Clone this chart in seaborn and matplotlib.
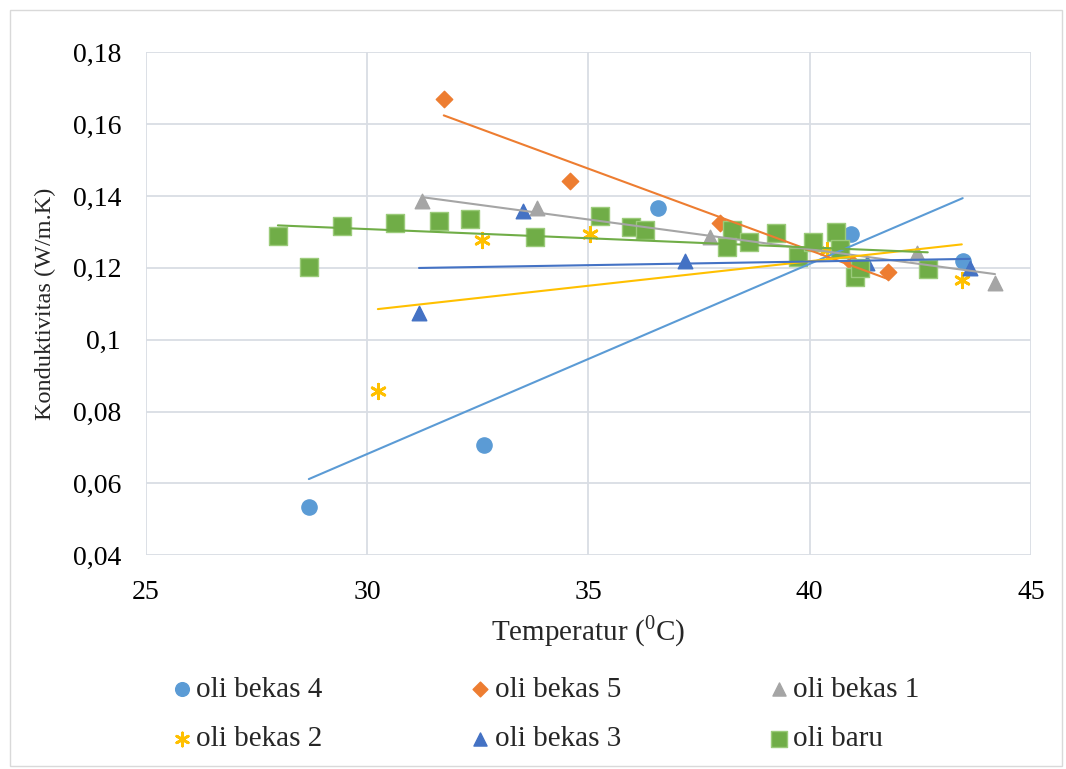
import numpy as np
import pandas as pd
import matplotlib
matplotlib.use("Agg")
import matplotlib.pyplot as plt
import seaborn as sns
from matplotlib.ticker import FuncFormatter, MultipleLocator
from matplotlib.patches import Rectangle

# Data
bekas4_x = [28.68, 32.64, 36.57, 40.93, 43.46]
bekas4_y = [0.0534, 0.0706, 0.1366, 0.1293, 0.1218]

bekas5_x = [31.73, 34.58, 37.97, 40.96, 41.77]
bekas5_y = [0.1669, 0.1441, 0.1324, 0.1213, 0.1188]

bekas1_x = [31.24, 33.84, 37.75, 42.42, 44.19]
bekas1_y = [0.1385, 0.1366, 0.1285, 0.1241, 0.1157]

bekas2_x = [30.24, 32.59, 35.03, 40.40, 43.44]
bekas2_y = [0.0857, 0.1277, 0.1293, 0.1250, 0.1165]

bekas3_x = [31.17, 33.52, 37.18, 41.29, 43.62]
bekas3_y = [0.1074, 0.1357, 0.1218, 0.1213, 0.1199]

baru_x = [27.98, 28.68, 29.43, 30.63, 31.62, 32.32, 33.79, 35.26, 35.96, 36.28,
          38.24, 38.13, 38.63, 39.24, 39.73, 40.07, 40.59, 40.68, 41.02, 41.14, 42.67]
baru_y = [0.1288, 0.1202, 0.1316, 0.1324, 0.1330, 0.1335, 0.1285, 0.1344, 0.1313, 0.1305,
          0.1305, 0.1257, 0.1271, 0.1296, 0.1229, 0.1271, 0.1299, 0.1252, 0.1174, 0.1199, 0.1196]

series = [
    # name, x, y, colour, marker, size, edge
    ("oli bekas 4", bekas4_x, bekas4_y, "#5B9BD5", "o", 120, "#5B9BD5"),
    ("oli bekas 5", bekas5_x, bekas5_y, "#ED7D31", "D", 70, "#ED7D31"),
    ("oli bekas 1", bekas1_x, bekas1_y, "#A5A5A5", "^", 110, "#A5A5A5"),
    ("oli bekas 2", bekas2_x, bekas2_y, "#FFC000", (6, 2, 0), 110, "#FFC000"),
    ("oli bekas 3", bekas3_x, bekas3_y, "#4472C4", "^", 110, "#4472C4"),
    ("oli baru", baru_x, baru_y, "#70AD47", "s", 165, "#9BCB7A"),
]

sns.set_style("white")
plt.rcParams["font.family"] = ["Liberation Serif", "DejaVu Serif"]
plt.rcParams["mathtext.fontset"] = "custom"
plt.rcParams["mathtext.rm"] = "Liberation Serif"

fig = plt.figure(figsize=(10.66, 7.69), dpi=100)
ax = fig.add_axes([0.137, 0.278, 0.830, 0.654])

for name, xs, ys, col, mk, sz, ec in series:
    df = pd.DataFrame({"x": xs, "y": ys})
    lw = 2 if mk == (6, 2, 0) else 1
    sns.scatterplot(data=df, x="x", y="y", ax=ax, color=col, marker=mk, s=sz,
                    edgecolor=ec, linewidth=lw, zorder=3, label=name)
    sns.regplot(data=df, x="x", y="y", ax=ax, scatter=False, ci=None,
                color=col, line_kws={"linewidth": 1.5, "zorder": 4})

ax.set_xlim(25, 45)
ax.set_ylim(0.04, 0.18)
ax.xaxis.set_major_locator(MultipleLocator(5))
ax.yaxis.set_major_locator(MultipleLocator(0.02))
ax.yaxis.set_major_formatter(FuncFormatter(lambda v, p: f"{v:g}".replace(".", ",")))
ax.grid(True, color="#D9DDE4", linewidth=1.3)
ax.set_axisbelow(True)
for s in ax.spines.values():
    s.set_visible(False)
ax.tick_params(axis="both", labelsize=20, length=0, colors="black")
ax.tick_params(axis="x", pad=18)
ax.tick_params(axis="y", pad=18)

ax.set_xlabel(r"Temperatur ($^{\mathrm{0}}$C)", fontsize=21, labelpad=6)
ax.set_ylabel("Konduktivitas (W/m.K)", fontsize=17.5, labelpad=12)

# legend: 3 columns, filled column by column
h, l = ax.get_legend_handles_labels()
order = ["oli bekas 4", "oli bekas 2", "oli bekas 5", "oli bekas 3", "oli bekas 1", "oli baru"]
hh = [h[l.index(n)] for n in order]
ax.legend(hh, order, loc="center", bbox_to_anchor=(0.511, 0.071), bbox_transform=fig.transFigure,
          ncol=3, frameon=False, fontsize=21, columnspacing=5.0, handletextpad=0.1,
          handlelength=0.8, markerscale=0.9, labelspacing=0.78)

fig.patches.append(Rectangle((0.0094, 0.004), 0.987, 0.983, transform=fig.transFigure,
                             fill=False, edgecolor="#D9D9D9", linewidth=1))

fig.savefig("out.png", dpi=100)
